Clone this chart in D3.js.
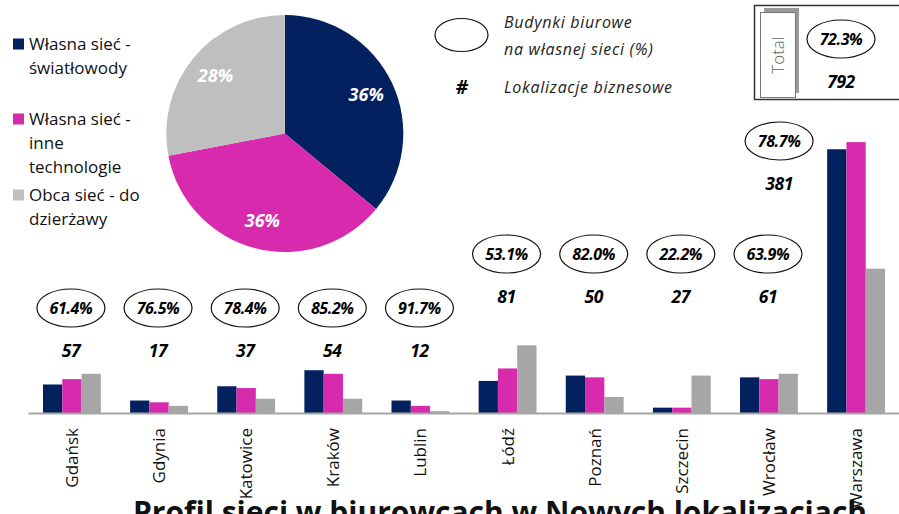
<!DOCTYPE html>
<html>
<head>
<meta charset="utf-8">
<script src="https://cdn.jsdelivr.net/npm/d3@7"></script>
<style>
  body { margin: 0; background: #fff; }
  svg { display: block; font-family: 'Open Sans', sans-serif; }
  .num { font-weight: 700; font-style: italic; }
</style>
</head>
<body>
<svg id="chart" width="899" height="514"></svg>
<script>
// data
const cities = ['Gdańsk', 'Gdynia', 'Katowice', 'Kraków', 'Lublin', 'Łódź', 'Poznań', 'Szczecin', 'Wrocław', 'Warszawa']
const fiber = [16, 7, 15, 24, 7, 18, 21, 3, 20, 148]
const otherTech = [19, 6, 14, 22, 4, 25, 20, 3, 19, 152]
const leased = [22, 4, 8, 8, 1, 38, 9, 21, 22, 81]
const locations = [57, 17, 37, 54, 12, 81, 50, 27, 61, 381]
const ownShare = ['61.4%', '76.5%', '78.4%', '85.2%', '91.7%', '53.1%', '82.0%', '22.2%', '63.9%', '78.7%']
const pieValues = [36, 36, 28]
const seriesLines = [['Własna sieć -', 'światłowody'], ['Własna sieć -', 'inne', 'technologie'], ['Obca sieć - do', 'dzierżawy']]
const totalShare = '72.3%'
const totalCount = 792

const colors = ['#03205f', '#d82aad', '#bfbfbf']
const barColors = ['#03205f', '#d82aad', '#a6a6a6']

const svg = d3.select('#chart')

// ---- pie ----
const pieG = svg.append('g').attr('transform', 'translate(284.8,133.5)')
const pie = d3.pie().sort(null).value(d => d)
const arc = d3.arc().innerRadius(0).outerRadius(118.5)
const labelArc = d3.arc().innerRadius(90).outerRadius(90)
const slices = pie(pieValues)

pieG.selectAll('path').data(slices).join('path')
  .attr('d', arc)
  .attr('fill', (d, i) => colors[i])

pieG.selectAll('text').data(slices).join('text')
  .attr('transform', d => `translate(${labelArc.centroid(d)})`)
  .attr('text-anchor', 'middle')
  .attr('dy', '0.35em')
  .attr('class', 'num')
  .attr('font-size', 18)
  .attr('fill', '#fff')
  .text(d => d.data + '%')

// ---- pie legend ----
const legendTop = [44, 119, 195]
seriesLines.forEach((lines, i) => {
  let g = svg.append('g').attr('transform', `translate(13,${legendTop[i]})`)
  g.append('rect').attr('x', 0).attr('y', -5.5).attr('width', 11).attr('height', 11).attr('fill', colors[i])
  let t = g.append('text').attr('x', 16).attr('y', 6).attr('font-size', 17).attr('fill', '#111')
  lines.forEach((l, j) => t.append('tspan').attr('x', 16).attr('dy', j ? 24 : 0).text(l))
})

// ---- key (ellipse / #) ----
svg.append('ellipse').attr('cx', 461.5).attr('cy', 35).attr('rx', 26.5).attr('ry', 16.5)
  .attr('fill', 'none').attr('stroke', '#111').attr('stroke-width', 1.2)
let key = svg.append('text').attr('font-size', 16).attr('font-style', 'italic')
  .attr('letter-spacing', 0.7).attr('fill', '#222')
key.append('tspan').attr('x', 504).attr('y', 28).text('Budynki biurowe')
key.append('tspan').attr('x', 504).attr('y', 55).text('na własnej sieci (%)')
svg.append('text').attr('class', 'num').attr('x', 462).attr('y', 94).attr('text-anchor', 'middle')
  .attr('font-size', 19).text('#')
svg.append('text').attr('x', 504).attr('y', 93).attr('font-size', 16).attr('font-style', 'italic')
  .attr('letter-spacing', 0.7).attr('fill', '#222').text('Lokalizacje biznesowe')

// ---- total box ----
svg.append('rect').attr('x', 754.5).attr('y', 5.5).attr('width', 160).attr('height', 94)
  .attr('fill', '#fff').attr('stroke', '#333').attr('stroke-width', 1.5)
svg.append('rect').attr('x', 764).attr('y', 8).attr('width', 35).attr('height', 85).attr('fill', '#9a9a9a')
svg.append('rect').attr('x', 760.5).attr('y', 12.5).attr('width', 35).attr('height', 85)
  .attr('fill', '#fff').attr('stroke', '#777').attr('stroke-width', 1)
svg.append('text').attr('transform', 'translate(784,55) rotate(-90)').attr('text-anchor', 'middle')
  .attr('font-size', 17).attr('font-weight', 300).attr('fill', '#666').text('Total')

function bubble (cx, cy, share, count) {
  svg.append('ellipse').attr('cx', cx).attr('cy', cy).attr('rx', 34).attr('ry', 19)
    .attr('fill', 'none').attr('stroke', '#111').attr('stroke-width', 1.2)
  svg.append('text').attr('class', 'num').attr('x', cx).attr('y', cy + 5.5).attr('text-anchor', 'middle')
    .attr('font-size', 16).attr('letter-spacing', -0.4).text(share)
  svg.append('text').attr('class', 'num').attr('x', cx).attr('y', cy + 49).attr('text-anchor', 'middle')
    .attr('font-size', 17.5).attr('letter-spacing', -0.4).text(count)
}
bubble(841, 39, totalShare, totalCount)

// ---- grouped bars ----
const baseY = 413
const x0 = d3.scaleBand().domain(cities).range([28, 900]).paddingInner(0.336).paddingOuter(0.172)
const x1 = d3.scaleBand().domain([0, 1, 2]).range([0, x0.bandwidth()])
const y = d3.scaleLinear().domain([0, 160]).range([baseY, baseY - 160 * 1.782])

const series = [fiber, otherTech, leased]
const groups = svg.append('g').selectAll('g').data(cities).join('g')
  .attr('transform', d => `translate(${x0(d)},0)`)

groups.selectAll('rect').data((d, i) => series.map((s, k) => ({ k, v: s[i] }))).join('rect')
  .attr('x', d => x1(d.k))
  .attr('width', x1.bandwidth())
  .attr('y', d => y(d.v))
  .attr('height', d => y(0) - y(d.v))
  .attr('fill', d => barColors[d.k])

const axis = svg.append('g').attr('transform', `translate(0,${baseY})`)
  .call(d3.axisBottom(x0).tickSize(0).tickSizeOuter(0))
axis.select('.domain').attr('stroke', '#a6a6a6').attr('stroke-width', 2)
axis.selectAll('text')
  .attr('transform', 'rotate(-90)')
  .attr('text-anchor', 'end')
  .attr('x', -15)
  .attr('y', 0)
  .attr('dy', '0.35em')
  .attr('font-size', 17)
  .attr('font-family', 'Open Sans, sans-serif')
  .attr('fill', '#111')

// bubbles above the groups: three rows
cities.forEach((c, i) => {
  let cx = x0(c) + x0.bandwidth() / 2
  let cy = 308
  if (i >= 5) cy = 254
  if (i === cities.length - 1) { cx -= 76; cy = 141 }
  bubble(cx - 1, cy, ownShare[i], locations[i])
})

// title cut off by the bottom edge, as in the source
svg.append('text').attr('x', 500).attr('y', 523).attr('text-anchor', 'middle')
  .attr('font-size', 30).attr('font-weight', 700).attr('fill', '#111')
  .text('Profil sieci w biurowcach w Nowych lokalizacjach')
</script>
</body>
</html>
